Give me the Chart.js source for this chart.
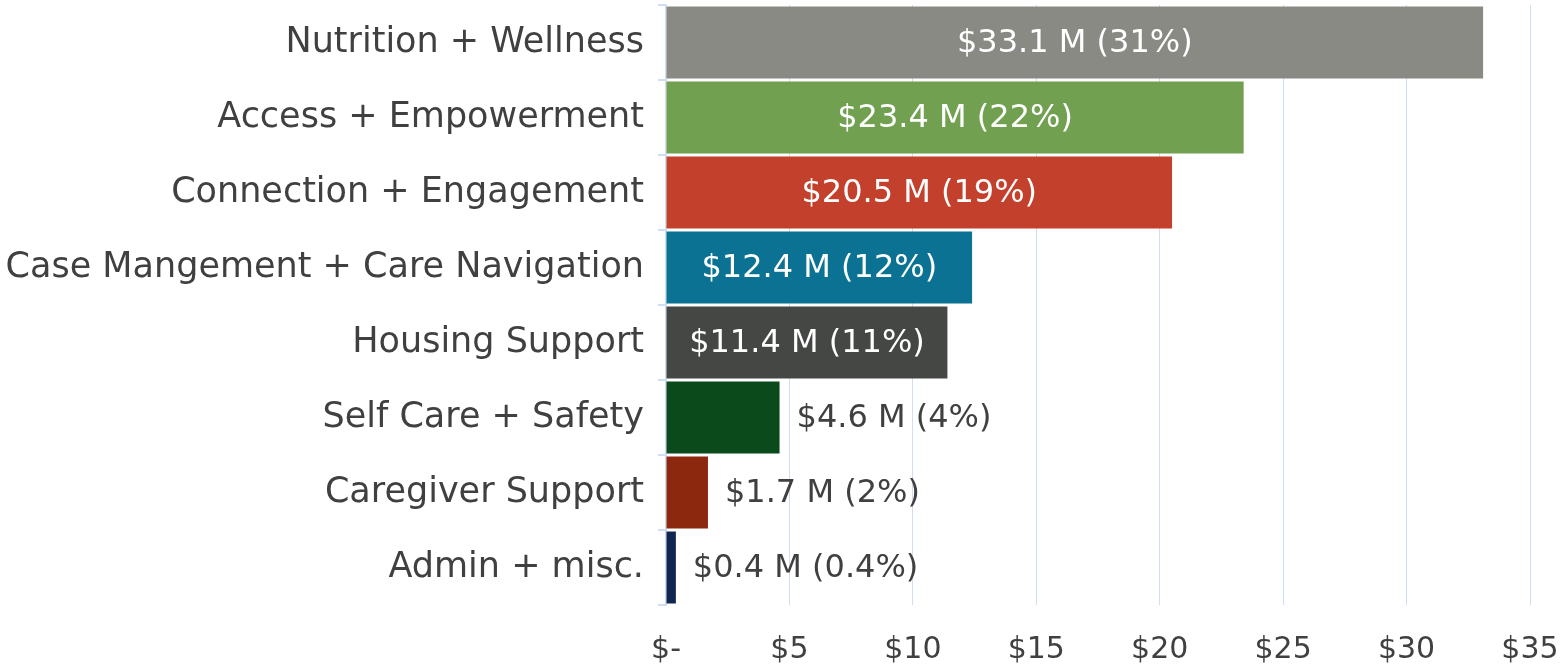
<!DOCTYPE html>
<html>
<head>
<meta charset="utf-8">
<script src="https://cdn.jsdelivr.net/npm/chart.js@4/dist/chart.umd.min.js"></script>
<style>
  html, body { margin: 0; padding: 0; background: #fff; }
  #wrap { width: 1566px; height: 667px; }
</style>
</head>
<body>
<div id="wrap"><canvas id="c"></canvas></div>
<script>
// Program spending by category, $ millions.
const categories = [
  "Nutrition + Wellness",
  "Access + Empowerment",
  "Connection + Engagement",
  "Case Mangement + Care Navigation",
  "Housing Support",
  "Self Care + Safety",
  "Caregiver Support",
  "Admin + misc.",
];
const amounts = [33.1, 23.4, 20.5, 12.4, 11.4, 4.6, 1.7, 0.4];
const valueLabels = [
  "$33.1 M (31%)",
  "$23.4 M (22%)",
  "$20.5 M (19%)",
  "$12.4 M (12%)",
  "$11.4 M (11%)",
  "$4.6 M (4%)",
  "$1.7 M (2%)",
  "$0.4 M (0.4%)",
];
const barColors = ["#8a8a84", "#70a050", "#c3402c", "#0b7294", "#454744", "#0a4a1b", "#8b280e", "#11264f"];
const xTicks = [0, 5, 10, 15, 20, 25, 30, 35];

const FONT = "'DejaVu Sans', sans-serif";
const TEXT = "#404040";
const GRID = "#d0ddf3";

// Draws the value labels: white and centred in the wide bars, grey past the end of the short ones.
const barLabels = {
  id: "barLabels",
  afterDatasetsDraw(chart) {
    const { ctx } = chart;
    const meta = chart.getDatasetMeta(0);
    ctx.save();
    ctx.font = `32px ${FONT}`;
    ctx.textBaseline = "middle";
    meta.data.forEach((bar, i) => {
      if (amounts[i] > 10) {
        ctx.fillStyle = "#ffffff";
        ctx.textAlign = "center";
        ctx.fillText(valueLabels[i], (bar.base + bar.x) / 2, bar.y + 1);
      } else {
        ctx.fillStyle = TEXT;
        ctx.textAlign = "left";
        ctx.fillText(valueLabels[i], bar.x + 17, bar.y + 1);
      }
    });
    ctx.restore();
  },
};

new Chart(document.getElementById("c"), {
  type: "bar",
  data: {
    labels: categories,
    datasets: [{
      data: amounts,
      backgroundColor: barColors,
      barPercentage: 1,
      categoryPercentage: 0.96,
    }],
  },
  options: {
    indexAxis: "y",
    responsive: true,
    maintainAspectRatio: false,
    animation: false,
    layout: { padding: { top: 5, right: 36, left: 0, bottom: 0 } },
    plugins: { legend: { display: false }, tooltip: { enabled: false } },
    scales: {
      x: {
        min: 0,
        max: 35,
        afterBuildTicks: (s) => { s.ticks = xTicks.map((v) => ({ value: v })); },
        afterFit: (s) => { s.height = 62; s.paddingLeft = 0; s.paddingRight = 0; },
        border: { display: false },
        grid: { color: GRID, lineWidth: 1, drawTicks: false },
        ticks: {
          color: TEXT,
          font: { family: FONT, size: 30 },
          padding: 27,
          maxRotation: 0,
          callback: (v) => (v === 0 ? "$-" : `$${v}`),
        },
      },
      y: {
        afterFit: (s) => { s.width = 666; s.paddingTop = 0; s.paddingBottom = 0; },
        border: { display: true, color: GRID, width: 2 },
        grid: { drawOnChartArea: false, color: GRID, tickLength: 8, lineWidth: 2 },
        ticks: {
          color: TEXT,
          font: { family: FONT, size: 35 },
          padding: 14,
        },
      },
    },
  },
  plugins: [barLabels],
});
</script>
</body>
</html>
